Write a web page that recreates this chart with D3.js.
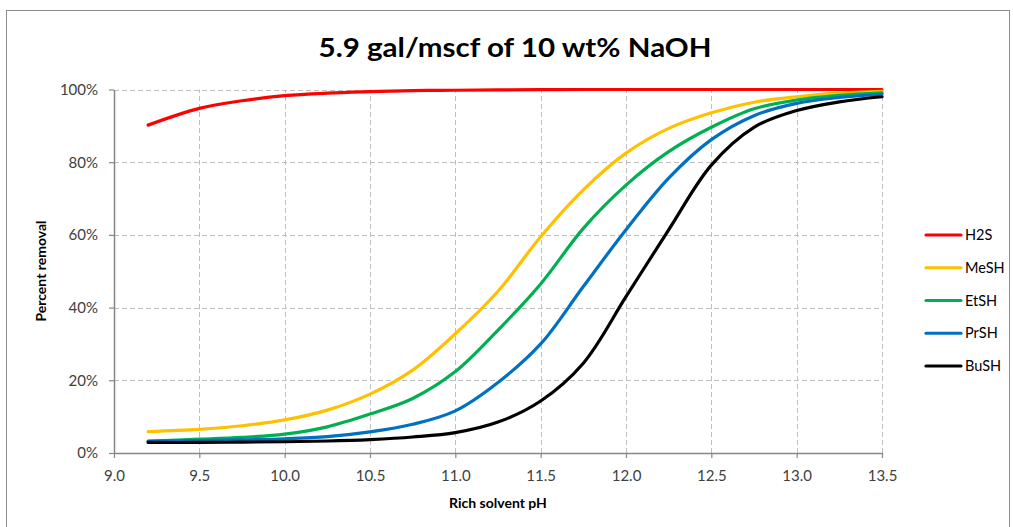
<!DOCTYPE html>
<html><head><meta charset="utf-8">
<script src="https://cdn.jsdelivr.net/npm/d3@7"></script>
<style>
body{margin:0;background:#fff;}
svg{display:block;font-family:Lato,"Open Sans",sans-serif;}
</style></head><body>
<svg id="c" width="1013" height="527"></svg>
<script>
const pH = [9.2, 9.5, 9.75, 10.0, 10.25, 10.5, 10.75, 11.0, 11.25, 11.5, 11.75, 12.0, 12.25, 12.5, 12.75, 13.0, 13.25, 13.5];
const H2S  = [90.2, 94.8, 96.9, 98.3, 99.0, 99.4, 99.7, 99.8, 99.9, 99.95, 100, 100, 100, 100, 100, 100, 100, 100];
const MeSH = [5.9, 6.5, 7.5, 9.1, 11.8, 16.2, 22.8, 32.8, 44.5, 59.5, 72.4, 82.5, 89.3, 93.6, 96.5, 98.0, 99.0, 99.5];
const EtSH = [3.3, 3.8, 4.3, 5.2, 7.2, 10.7, 15.0, 22.4, 33.8, 46.5, 61.8, 73.7, 82.9, 89.6, 94.7, 97.1, 98.4, 99.1];
const PrSH = [3.2, 3.4, 3.6, 3.9, 4.5, 5.8, 7.9, 11.6, 19.4, 30.0, 45.8, 61.4, 75.6, 86.2, 92.8, 96.2, 97.8, 98.7];
const BuSH = [2.9, 2.9, 3.0, 3.1, 3.3, 3.7, 4.4, 5.6, 8.5, 14.3, 24.7, 43.0, 61.4, 79.2, 89.6, 94.2, 96.6, 98.0];
const seriesNames = ["H2S", "MeSH", "EtSH", "PrSH", "BuSH"];
const seriesValues = [H2S, MeSH, EtSH, PrSH, BuSH];
const seriesColors = ["#FF0000", "#FFC000", "#00B050", "#0070C0", "#000000"];
const xTicks = [9.0, 9.5, 10.0, 10.5, 11.0, 11.5, 12.0, 12.5, 13.0, 13.5];
const yTicks = [0, 20, 40, 60, 80, 100];
const titleText = "5.9 gal/mscf of 10 wt% NaOH";
const xTitle = "Rich solvent pH";
const yTitle = "Percent removal";

const svg = d3.select("#c");
const L = 114, R = 882, T = 89.5, B = 453;
const x = d3.scaleLinear().domain([9, 13.5]).range([L, R]);
const y = d3.scaleLinear().domain([0, 100]).range([B, T]);

// outer border
svg.append("rect").attr("x", 6.5).attr("y", 10.5).attr("width", 1003).attr("height", 530)
  .attr("fill", "none").attr("stroke", "#8c8c8c").attr("stroke-width", 1);

// title
svg.append("text").attr("x", 515).attr("y", 57).attr("text-anchor", "middle")
  .attr("font-size", 26).attr("font-weight", "bold").attr("fill", "#000")
  .attr("textLength", 393).attr("lengthAdjust", "spacingAndGlyphs").text(titleText);

// gridlines
const g = svg.append("g");
g.selectAll(".hg").data(yTicks.filter(d => d > 0)).enter().append("line")
  .attr("x1", L).attr("x2", R).attr("y1", d => Math.round(y(d)) + 0.5).attr("y2", d => Math.round(y(d)) + 0.5)
  .attr("stroke", "#BFBFBF").attr("stroke-dasharray", "5,3");
g.selectAll(".vg").data(xTicks.filter(d => d > 9)).enter().append("line")
  .attr("y1", B).attr("y2", T).attr("x1", d => Math.round(x(d)) + 0.5).attr("x2", d => Math.round(x(d)) + 0.5)
  .attr("stroke", "#BFBFBF").attr("stroke-dasharray", "5,3");

// axes
const xAxis = d3.axisBottom(x).tickValues(xTicks).tickFormat(d3.format(".1f")).tickSizeInner(5).tickSizeOuter(0).tickPadding(12);
const yAxis = d3.axisLeft(y).tickValues(yTicks).tickFormat(d => d + "%").tickSizeInner(5).tickSizeOuter(0).tickPadding(11);
const xa = svg.append("g").attr("transform", `translate(0,${B})`).call(xAxis);
const ya = svg.append("g").attr("transform", `translate(${L},0)`).call(yAxis);
[xa, ya].forEach(a => {
  a.select(".domain").attr("stroke", "#868686").attr("stroke-width", 1.5);
  a.selectAll(".tick line").attr("stroke", "#868686").attr("stroke-width", 1.2);
  a.selectAll(".tick text").attr("fill", "#404040").attr("font-size", 15).attr("font-family", "Lato, sans-serif");
});

// axis titles
svg.append("text").attr("x", 498).attr("y", 508).attr("text-anchor", "middle")
  .attr("font-size", 14).attr("font-weight", "bold").text(xTitle);
svg.append("text").attr("transform", "translate(46,271) rotate(-90)").attr("text-anchor", "middle")
  .attr("font-size", 14).attr("font-weight", "bold").text(yTitle);

// lines
const line = d3.line().x(d => x(d[0])).y(d => y(d[1])).curve(d3.curveCatmullRom.alpha(0.5));
seriesValues.forEach((vals, i) => {
  svg.append("path").datum(pH.map((p, j) => [p, vals[j]]))
    .attr("d", line).attr("fill", "none").attr("stroke", seriesColors[i])
    .attr("stroke-width", 3.2).attr("stroke-linecap", "round");
});

// legend
const lg = svg.append("g");
seriesNames.forEach((n, i) => {
  const yy = 235 + i * 32.75;
  lg.append("line").attr("x1", 926).attr("x2", 961).attr("y1", yy).attr("y2", yy)
    .attr("stroke", seriesColors[i]).attr("stroke-width", 3.2).attr("stroke-linecap", "round");
  lg.append("text").attr("x", 965).attr("y", yy + 5).attr("font-size", 14.5).attr("fill", "#000").text(n);
});
</script>
</body></html>
